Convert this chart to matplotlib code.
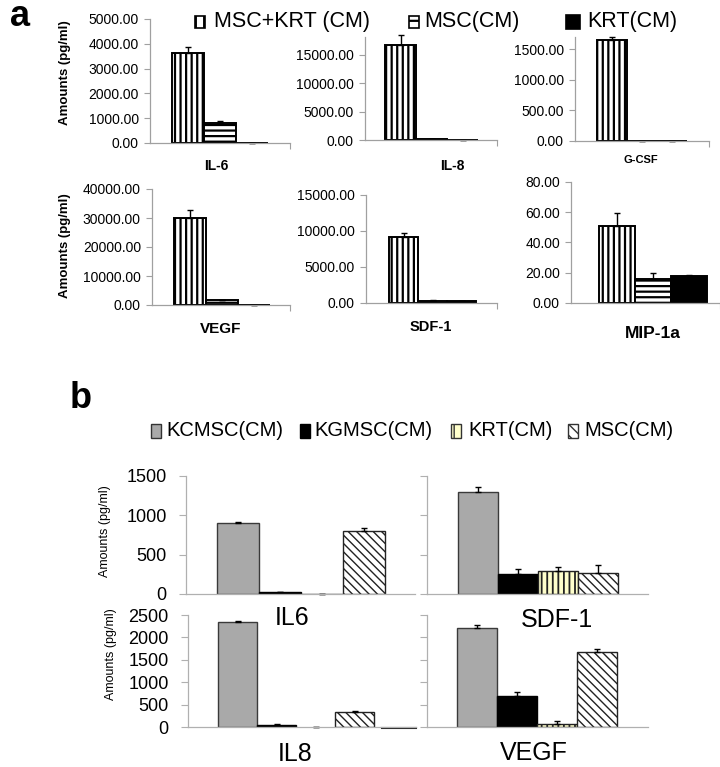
import numpy as np
import matplotlib
matplotlib.use('Agg')
import matplotlib.pyplot as plt
from matplotlib.patches import Rectangle
from matplotlib.ticker import FormatStrFormatter, MultipleLocator

plt.rcParams['font.family'] = ['Liberation Sans', 'DejaVu Sans']

# ---- panel a data (pg/ml) ----
a_cytokines = ['IL-6', 'IL-8', 'G-CSF', 'VEGF', 'SDF-1', 'MIP-1a']
a_series = ['MSC+KRT (CM)', 'MSC(CM)', 'KRT(CM)']
msckrt_vals = [3610, 16700, 1650, 30100, 9140, 50.7]
msckrt_err = [270, 1800, 55, 2650, 650, 8.8]
msc_vals = [810, 200, 5, 1700, 280, 15.9]
msc_err = [60, 0, 0, 0, 130, 3.7]
krt_vals = [15, 30, 0, 50, 320, 18.1]
krt_err = [0, 0, 0, 0, 0, 0.5]

# ---- panel b data (pg/ml) ----
b_cytokines = ['IL6', 'SDF-1', 'IL8', 'VEGF']
b_series = ['KCMSC(CM)', 'KGMSC(CM)', 'KRT(CM)', 'MSC(CM)']
kcmsc_vals = [905, 1300, 2335, 2207]
kcmsc_err = [12, 60, 20, 75]
kgmsc_vals = [21, 253, 44, 696]
kgmsc_err = [3, 70, 20, 80]
krtb_vals = [2, 291, 0, 59]
krtb_err = [0, 54, 0, 67]
mscb_vals = [802, 270, 333, 1667]
mscb_err = [38, 96, 30, 74]

W, H = 720, 767
fig = plt.figure(figsize=(W / 100, H / 100), dpi=100)


def box(l, t, r, b):
    return [l / W, 1 - b / H, (r - l) / W, (b - t) / H]


def ftext(x, y, s, **kw):
    fig.text(x / W, 1 - y / H, s, **kw)


def fsquare(l, t, r, b, **kw):
    fig.add_artist(Rectangle((l / W, 1 - b / H), (r - l) / W, (b - t) / H,
                             transform=fig.transFigure, **kw))


def up_err(ax, x, v, e, cap):
    ax.errorbar(x, v, yerr=[[0] * len(e), e], fmt='none', ecolor='black',
                elinewidth=1.0, capsize=cap, capthick=1.0, clip_on=False)


GRAY_AX = '#a0a0a0'

# ---------------- panel a ----------------
a_boxes = [(150, 19, 290, 143), (365, 37, 497, 140), (575, 37, 709, 141),
           (152, 189, 290, 305), (366, 195, 497, 303), (571, 182, 720, 303)]
a_ymax = [5000, 18176, 1700, 40000, 15000, 80]
a_step = [1000, 5000, 500, 10000, 5000, 20]
a_barpx = [32, 31, 30, 32, 29, 36]
a_barstart = [172, 385, 597, 174, 389, 599]
a_lab_pos = [(216, 166, 10), (452, 166, 10), (641, 160, 8),
             (221, 329, 11), (431, 327, 10.5), (653, 333, 12.5)]

plt.rcParams['hatch.linewidth'] = 1.6
for i, name in enumerate(a_cytokines):
    l, t, r, b = a_boxes[i]
    ax = fig.add_axes(box(l, t, r, b))
    bw = a_barpx[i]
    x0 = -1.5 - (a_barstart[i] - l) / bw
    ax.set_xlim(x0, x0 + (r - l) / bw)
    ax.set_ylim(0, a_ymax[i])
    xs = np.array([-1, 0, 1])
    ax.bar(xs[0], msckrt_vals[i], width=1, facecolor='white', edgecolor='black',
           hatch='|||', linewidth=1.4)
    ax.bar(xs[1], msc_vals[i], width=1, facecolor='white', edgecolor='black',
           hatch='---', linewidth=1.4)
    ax.bar(xs[2], krt_vals[i], width=1, facecolor='black', edgecolor='black',
           linewidth=1.4)
    up_err(ax, xs, [msckrt_vals[i], msc_vals[i], krt_vals[i]],
           [msckrt_err[i], msc_err[i], krt_err[i]], 2.5)
    for s in ['top', 'right']:
        ax.spines[s].set_visible(False)
    for s in ['left', 'bottom']:
        ax.spines[s].set_color(GRAY_AX)
        ax.spines[s].set_linewidth(0.9)
    ax.yaxis.set_major_locator(MultipleLocator(a_step[i]))
    ax.yaxis.set_major_formatter(FormatStrFormatter('%.2f'))
    ax.tick_params(axis='y', direction='out', length=4, color=GRAY_AX,
                   labelsize=10, pad=4)
    ax.set_xticks([ax.get_xlim()[1]])
    ax.set_xticklabels([])
    ax.tick_params(axis='x', direction='out', length=4, color=GRAY_AX)
    lx, ly, fs = a_lab_pos[i]
    ftext(lx, ly, name, ha='center', va='center', fontsize=fs, fontweight='bold')

ftext(65, 73, 'Amounts (pg/ml)', rotation=90, ha='center', va='center',
      fontsize=9.5, fontweight='bold')
ftext(65, 246, 'Amounts (pg/ml)', rotation=90, ha='center', va='center',
      fontsize=9.5, fontweight='bold')
ftext(10, 16, 'a', ha='left', va='center', fontsize=26, fontweight='bold')

# legend a
fsquare(195, 16, 205, 28, facecolor='white', edgecolor='black', hatch='||', linewidth=1.2)
fsquare(409, 16, 419, 28, facecolor='white', edgecolor='black', hatch='--', linewidth=1.2)
fsquare(566, 15, 580, 29, facecolor='black', edgecolor='black', linewidth=1.2)
ftext(214, 22, a_series[0], ha='left', va='center', fontsize=15.5)
ftext(424, 22, a_series[1], ha='left', va='center', fontsize=15.5)
ftext(587, 22, a_series[2], ha='left', va='center', fontsize=15.5)

# ---------------- panel b ----------------
b_boxes = [(186, 476, 415, 594), (427, 476, 648, 594),
           (188, 615, 416, 727), (427, 615, 648, 727)]
b_ymax = [1500, 1500, 2500, 2500]
b_barpx = [42, 40, 39, 40]
b_barstart = [217, 458, 218, 457]
b_lab_pos = [(292, 618), (557, 620), (295, 754), (534, 753)]

for i, name in enumerate(b_cytokines):
    l, t, r, b = b_boxes[i]
    ax = fig.add_axes(box(l, t, r, b))
    bw = b_barpx[i]
    x0 = -2 - (b_barstart[i] - l) / bw
    ax.set_xlim(x0, x0 + (r - l) / bw)
    ax.set_ylim(0, b_ymax[i])
    xs = np.array([-1.5, -0.5, 0.5, 1.5])
    vals = [kcmsc_vals[i], kgmsc_vals[i], krtb_vals[i], mscb_vals[i]]
    errs = [kcmsc_err[i], kgmsc_err[i], krtb_err[i], mscb_err[i]]
    plt.rcParams['hatch.linewidth'] = 1.3
    ax.bar(xs[0], vals[0], width=1, facecolor='#a9a9a9', edgecolor='#3a3a3a', linewidth=1.0)
    ax.bar(xs[1], vals[1], width=1, facecolor='black', edgecolor='black', linewidth=1.0)
    if vals[2] > 0:
        ax.bar(xs[2], vals[2], width=1, facecolor='#ffffcc', edgecolor='#222222',
               hatch='|||', linewidth=1.0)
    plt.rcParams['hatch.linewidth'] = 1.0
    ax.bar(xs[3], vals[3], width=1, facecolor='white', edgecolor='#222222',
           hatch='\\\\\\\\', linewidth=1.0)
    up_err(ax, xs, vals, errs, 2.5)
    if i == 2:
        ax.axhline(-22, xmin=0.85, xmax=1.0, color='#222222', lw=1.5, clip_on=False)
    for s in ['top', 'right']:
        ax.spines[s].set_visible(False)
    for s in ['left', 'bottom']:
        ax.spines[s].set_color('#b0b0b0')
        ax.spines[s].set_linewidth(0.9)
    ax.yaxis.set_major_locator(MultipleLocator(500))
    ax.tick_params(axis='y', direction='out', length=5, color='#b0b0b0',
                   labelsize=13, pad=9)
    ax.set_xticks([])
    if i % 2 == 1:
        ax.set_yticklabels([])
    lx, ly = b_lab_pos[i]
    ftext(lx, ly, name, ha='center', va='center', fontsize=18)

ftext(105, 531, 'Amounts (pg/ml)', rotation=90, ha='center', va='center',
      fontsize=9)
ftext(111, 654, 'Amounts (pg/ml)', rotation=90, ha='center', va='center',
      fontsize=9)
ftext(70, 398, 'b', ha='left', va='center', fontsize=26, fontweight='bold')

# legend b
plt.rcParams['hatch.linewidth'] = 1.0
fsquare(151, 424, 161, 438, facecolor='#a9a9a9', edgecolor='#333333', linewidth=1.0)
fsquare(300, 424, 310, 438, facecolor='black', edgecolor='black', linewidth=1.0)
fsquare(451, 424, 461, 438, facecolor='#ffffcc', edgecolor='#333333', hatch='||', linewidth=1.0)
fsquare(568, 424, 578, 438, facecolor='white', edgecolor='#333333', hatch='\\\\\\', linewidth=1.0)
for xt, s in zip([166, 314, 468, 584], b_series):
    ftext(xt, 431, s, ha='left', va='center', fontsize=14.5)

fig.savefig('out.png', dpi=100)
